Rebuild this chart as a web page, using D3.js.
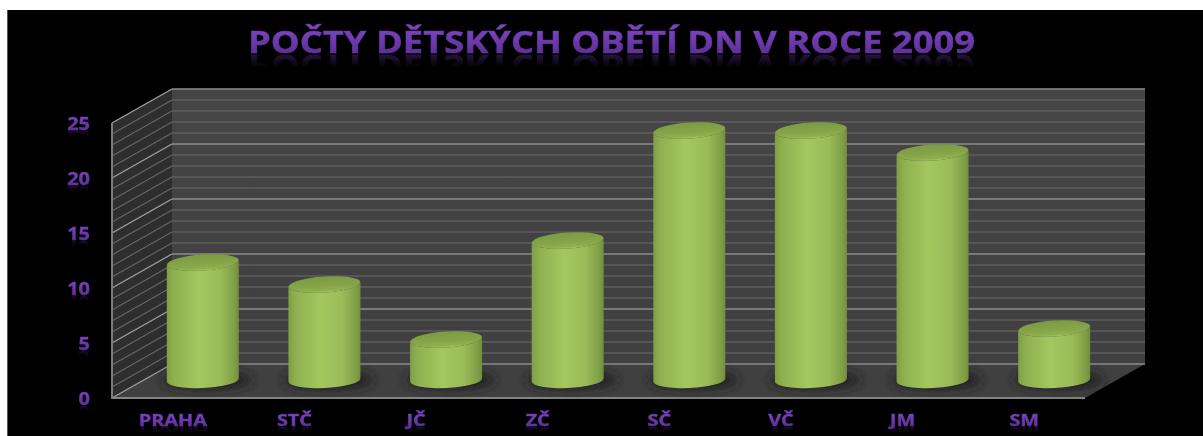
<!DOCTYPE html>
<html>
<head>
<meta charset="utf-8">
<script src="https://cdn.jsdelivr.net/npm/d3@7"></script>
<style>
html, body { margin: 0; padding: 0; background: #fff; overflow: hidden; }
svg { display: block; }
text { font-family: "Open Sans", sans-serif; font-weight: 700; }
</style>
</head>
<body>
<div id="visual"></div>
<script>
//data
const chartTitle = "POČTY DĚTSKÝCH OBĚTÍ DN V ROCE 2009";
const regions = ["PRAHA", "STČ", "JČ", "ZČ", "SČ", "VČ", "JM", "SM"];
const victims = [11, 9, 4, 13, 23, 23, 21, 5];
const yTicks = [0, 5, 10, 15, 20, 25];
const gridValues = d3.range(0, 26);

//constants
const width = 1203;
const height = 436;
const front = {left: 112, right: 1085, bottom: 398, top: 123};
const depth = {x: 60, y: -34};
const barRadius = 36;

const svg = d3.select("#visual")
	.append("svg")
	.attr("width", width)
	.attr("height", height);

const defs = svg.append("defs");

function gradient(id, stops, horizontal) {
	const g = defs.append("linearGradient")
		.attr("id", id)
		.attr("x1", 0).attr("y1", 0)
		.attr("x2", horizontal ? 1 : 0).attr("y2", horizontal ? 0 : 1);
	stops.forEach(s => g.append("stop")
		.attr("offset", s[0])
		.attr("stop-color", s[1]));
}
gradient("barSide", [[0, "#7f9e45"], [0.1, "#8fb04f"], [0.45, "#a4c760"], [0.75, "#9abb58"], [0.94, "#809e46"], [1, "#718d3c"]], true);
gradient("barTop", [[0, "#7c9a42"], [0.6, "#86a548"], [0.88, "#90b04f"], [1, "#a5c760"]], false);
gradient("label", [[0.2, "#7c44c4"], [0.8, "#5d2f96"]], false);
gradient("backWall", [[0, "#454545"], [1, "#404040"]], false);

defs.append("filter").attr("id", "soft")
	.append("feGaussianBlur").attr("stdDeviation", 0.5);
defs.append("filter").attr("id", "softText")
	.append("feGaussianBlur").attr("stdDeviation", 0.6);
defs.append("filter").attr("id", "shadow")
	.attr("x", "-30%").attr("width", "160%")
	.attr("y", "-80%").attr("height", "260%")
	.append("feGaussianBlur").attr("stdDeviation", 6);

//background, the picture has a white strip on top and left
svg.append("rect").attr("width", width).attr("height", height).attr("fill", "#fff");
svg.append("rect").attr("x", 7).attr("y", 10).attr("width", width - 7).attr("height", height - 10).attr("fill", "#000");
svg.append("line").attr("x1", 7.5).attr("x2", 7.5).attr("y1", 10).attr("y2", height).attr("stroke", "#555");

//Scales: one for the front edge of the box, one for the plane the cylinders stand in
const xFront = d3.scaleBand().domain(regions).range([front.left, front.right]);
const yFront = d3.scaleLinear().domain([0, 25]).range([front.bottom, front.top]);
const xMid = d3.scaleBand().domain(regions).range([front.left + depth.x / 2, front.right + depth.x / 2]);
const yMid = d3.scaleLinear().domain([0, 25]).range([front.bottom + depth.y / 2, front.top + depth.y / 2]);
const yBack = d3.scaleLinear().domain([0, 25]).range([front.bottom + depth.y, front.top + depth.y]);

const box = svg.append("g").attr("filter", "url(#soft)");
const backLeft = front.left + depth.x;
const backRight = front.right + depth.x;

box.append("rect")
	.attr("x", backLeft).attr("y", yBack(25))
	.attr("width", backRight - backLeft).attr("height", yBack(0) - yBack(25))
	.attr("fill", "url(#backWall)");
box.append("path")
	.attr("d", d3.line()([[front.left, yFront(0)], [front.left, yFront(25)], [backLeft, yBack(25)], [backLeft, yBack(0)]]) + "Z")
	.attr("fill", "#2d2d2d");
box.append("path")
	.attr("d", d3.line()([[front.left, yFront(0)], [backLeft, yBack(0)], [backRight, yBack(0)], [front.right, yFront(0)]]) + "Z")
	.attr("fill", "#414141");

//gridlines
const isMajor = d => d % 5 === 0;
box.selectAll(".grid-back")
	.data(gridValues)
	.enter()
	.append("line")
	.attr("class", "grid-back")
	.attr("x1", backLeft).attr("x2", backRight)
	.attr("y1", d => yBack(d)).attr("y2", d => yBack(d))
	.attr("stroke", d => isMajor(d) ? "#8c8c8c" : "#6c6c6c")
	.attr("stroke-width", d => isMajor(d) ? 1.4 : 1.1);
box.selectAll(".grid-side")
	.data(gridValues)
	.enter()
	.append("line")
	.attr("class", "grid-side")
	.attr("x1", front.left).attr("x2", backLeft)
	.attr("y1", d => yFront(d)).attr("y2", d => yBack(d))
	.attr("stroke", d => isMajor(d) ? "#a0a0a0" : "#686868")
	.attr("stroke-width", d => isMajor(d) ? 1.4 : 1.1);
box.append("line")
	.attr("x1", front.left).attr("x2", front.left)
	.attr("y1", yFront(0) + 1).attr("y2", yFront(25))
	.attr("stroke", "#7c7c7c").attr("stroke-width", 2);
box.append("line")
	.attr("x1", front.left).attr("x2", front.right)
	.attr("y1", yFront(0)).attr("y2", yFront(0))
	.attr("stroke", "#858585").attr("stroke-width", 2);

//shadows on the floor
const barX = d => xMid(d) + xMid.bandwidth() / 2;
const baseY = yMid(0) - 1;
box.selectAll(".shadow")
	.data(regions)
	.enter()
	.append("ellipse")
	.attr("class", "shadow")
	.attr("cx", d => barX(d) + 4)
	.attr("cy", baseY)
	.attr("rx", barRadius + 10)
	.attr("ry", 9)
	.attr("fill", "#1c1c1c")
	.attr("filter", "url(#shadow)");

//cylinders, the ellipses lean a little like in the 3d view
const tilt = 2.4;
const lean = -3.8;
const ry = 8;
const barTop = i => yMid(victims[i]) + 2.5;
function sidePath(d, i) {
	const x = barX(d), top = barTop(i);
	return "M" + (x - barRadius) + "," + (top + tilt)
		+ "L" + (x - barRadius) + "," + (baseY + 1.5)
		+ "A" + barRadius + "," + ry + " -2.5 0 0 " + (x + barRadius) + "," + (baseY - 1.5)
		+ "L" + (x + barRadius) + "," + (top - tilt)
		+ "A" + barRadius + "," + ry + " " + lean + " 0 1 " + (x - barRadius) + "," + (top + tilt) + "Z";
}
const bars = box.selectAll(".bar")
	.data(regions)
	.enter()
	.append("g")
	.attr("class", "bar");
bars.append("path")
	.attr("d", sidePath)
	.attr("fill", "url(#barSide)");
bars.append("ellipse")
	.attr("rx", barRadius).attr("ry", ry)
	.attr("transform", (d, i) => "translate(" + barX(d) + "," + barTop(i) + ") rotate(" + lean + ")")
	.attr("fill", "url(#barTop)");

//faded mirror image under a text, made with <use> so the words stay one text each
let mirrorCount = 0;
function mirror(node, tx, flipY, baseline, fade, strength) {
	const id = "txt" + (++mirrorCount);
	d3.select(node).attr("id", id);
	const grad = defs.append("linearGradient")
		.attr("id", id + "fade")
		.attr("gradientUnits", "userSpaceOnUse")
		.attr("x1", 0).attr("x2", 0)
		.attr("y1", baseline).attr("y2", baseline + fade);
	grad.append("stop").attr("offset", 0).attr("stop-color", "#fff").attr("stop-opacity", strength);
	grad.append("stop").attr("offset", 1).attr("stop-color", "#fff").attr("stop-opacity", 0);
	defs.append("mask")
		.attr("id", id + "mask")
		.attr("maskUnits", "userSpaceOnUse")
		.attr("x", 0).attr("y", 0).attr("width", width).attr("height", height)
		.append("rect")
		.attr("width", width).attr("height", height)
		.attr("fill", "url(#" + id + "fade)");
	svg.append("g")
		.attr("mask", "url(#" + id + "mask)")
		.append("g")
		.attr("filter", "url(#softText)")
		.append("use")
		.attr("href", "#" + id)
		.attr("transform", "translate(" + tx + "," + flipY + ") scale(1,-1)");
}

//stretch a label sideways, the original lettering is wide
function stretch(sel, factor) {
	sel.each(function() {
		const len = this.getComputedTextLength();
		d3.select(this)
			.attr("textLength", len * factor)
			.attr("lengthAdjust", "spacingAndGlyphs");
	});
}

const titleG = svg.append("g").attr("filter", "url(#softText)");
const titleText = titleG.append("text")
	.attr("x", 611.5)
	.attr("y", 53)
	.attr("text-anchor", "middle")
	.attr("font-size", 31)
	.attr("fill", "url(#label)")
	.attr("stroke", "#6a38a8")
	.attr("stroke-width", 0.5)
	.text(chartTitle);
titleText.attr("textLength", 727).attr("lengthAdjust", "spacingAndGlyphs");
mirror(titleText.node(), 0, 108, 54, 13, 0.42);

//axes
const ySize = 17.5;
const yAxisX = 90;
const yShift = 1;
const yAxis = svg.append("g")
	.attr("transform", "translate(" + yAxisX + "," + yShift + ")")
	.attr("filter", "url(#softText)")
	.call(d3.axisLeft(yFront).tickValues(yTicks).tickSize(0).tickPadding(0));
yAxis.select(".domain").remove();
yAxis.selectAll("text")
	.attr("font-size", ySize)
	.attr("font-family", "\"Open Sans\", sans-serif")
	.attr("text-anchor", "end")
	.attr("fill", "url(#label)")
	.attr("stroke", "#6a38a8")
	.attr("stroke-width", 0.4)
	.call(stretch, 1.14)
	.each(function(d) {
		const local = 0.32 * ySize;
		const tickY = yFront(d) + yShift + 0.5;
		mirror(this, yAxisX, tickY + 2 * local + 1, tickY + local, 7, 0.28);
	});

const xSize = 16;
const xAxisY = 415;
const xAxis = svg.append("g")
	.attr("transform", "translate(0," + xAxisY + ")")
	.attr("filter", "url(#softText)")
	.call(d3.axisBottom(xFront).tickSize(0).tickPadding(0));
xAxis.select(".domain").remove();
xAxis.selectAll("text")
	.attr("font-size", xSize)
	.attr("font-family", "\"Open Sans\", sans-serif")
	.attr("text-anchor", "middle")
	.attr("fill", "url(#label)")
	.attr("stroke", "#6a38a8")
	.attr("stroke-width", 0.4)
	.call(stretch, 1.24)
	.each(function(d) {
		const local = 0.71 * xSize;
		const tickX = xFront(d) + xFront.bandwidth() / 2 + 0.5;
		mirror(this, tickX, xAxisY + 2 * local + 1, xAxisY + local, 7, 0.28);
	});
</script>
</body>
</html>
